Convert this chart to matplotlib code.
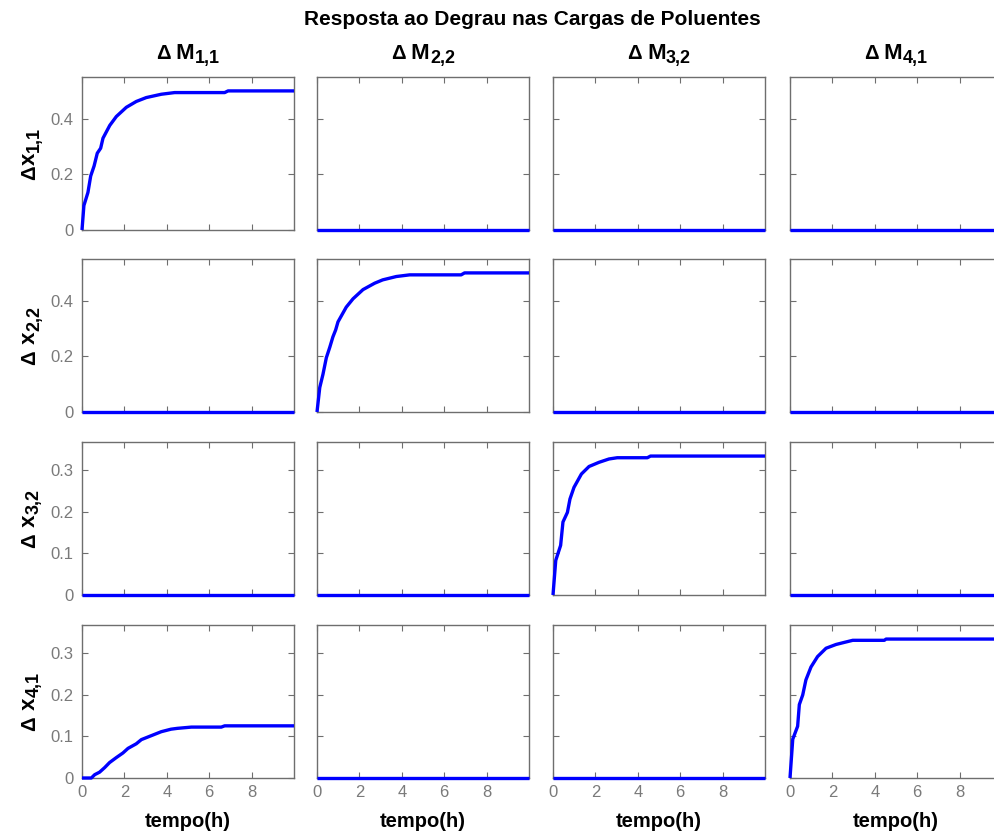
import matplotlib
matplotlib.use("Agg")
import matplotlib.pyplot as plt

plt.rcParams['font.family'] = ['Liberation Sans', 'DejaVu Sans']

# Inputs (columns) and outputs (rows); each label is (symbol, variable, index)
input_labels = [("Δ", " M", "1,1"), ("Δ", " M", "2,2"), ("Δ", " M", "3,2"), ("Δ", " M", "4,1")]
output_labels = [("Δ", "x", "1,1"), ("Δ", " x", "2,2"), ("Δ", " x", "3,2"), ("Δ", " x", "4,1")]

t_end = 10.0

# Step responses that are not identically zero: (row, col) -> time, value
t_11 = [0, 0.09, 0.28, 0.41, 0.57, 0.72, 0.88, 0.99, 1.31, 1.62, 2.09, 2.56,
        3.03, 3.74, 4.37, 6.73, 6.89, 10.0]
x_11 = [0, 0.088, 0.135, 0.194, 0.230, 0.276, 0.294, 0.330, 0.376, 0.408, 0.441,
        0.462, 0.476, 0.488, 0.494, 0.494, 0.500, 0.500]

t_22 = [0, 0.13, 0.28, 0.44, 0.60, 0.75, 0.88, 0.99, 1.38, 1.70, 2.17, 2.72,
        3.10, 3.74, 4.37, 6.80, 6.96, 10.0]
x_22 = [0, 0.088, 0.135, 0.195, 0.232, 0.270, 0.295, 0.324, 0.377, 0.407, 0.440,
        0.463, 0.475, 0.487, 0.493, 0.493, 0.500, 0.500]

t_33 = [0, 0.13, 0.36, 0.47, 0.68, 0.80, 0.99, 1.34, 1.70, 2.17, 2.64, 3.03,
        4.45, 4.60, 10.0]
x_33 = [0, 0.083, 0.119, 0.175, 0.198, 0.230, 0.258, 0.290, 0.308, 0.318, 0.326,
        0.329, 0.329, 0.333, 0.333]

t_41 = [0, 0.44, 0.60, 0.83, 1.07, 1.30, 1.62, 1.93, 2.17, 2.56, 2.80, 3.27,
        3.74, 4.20, 4.50, 5.16, 6.57, 6.73, 10.0]
x_41 = [0, 0, 0.008, 0.014, 0.025, 0.037, 0.049, 0.060, 0.071, 0.082, 0.092,
        0.1015, 0.111, 0.117, 0.119, 0.122, 0.122, 0.125, 0.125]

t_44 = [0, 0.13, 0.36, 0.44, 0.60, 0.75, 0.99, 1.30, 1.70, 2.17, 2.56, 2.96,
        4.45, 4.53, 10.0]
x_44 = [0, 0.093, 0.124, 0.176, 0.199, 0.235, 0.266, 0.291, 0.311, 0.320, 0.325,
        0.330, 0.330, 0.333, 0.333]

responses = {
    (0, 0): (t_11, x_11),
    (1, 1): (t_22, x_22),
    (2, 2): (t_33, x_33),
    (3, 0): (t_41, x_41),
    (3, 3): (t_44, x_44),
}

row_ylim = [0.55, 0.55, 0.3667, 0.3667]
row_yticks = [[0, 0.2, 0.4], [0, 0.2, 0.4], [0, 0.1, 0.2, 0.3], [0, 0.1, 0.2, 0.3]]
xticks = [0, 2, 4, 6, 8]

W, H = 995, 834
fig = plt.figure(figsize=(W / 100, H / 100), dpi=100)
renderer = fig.canvas.get_renderer()

col_left = [82, 317, 553, 790]
row_top = [77, 259, 442, 625]
ax_w, ax_h = 212, 153

line_color = '#0000ff'
spine_color = '#6e6e6e'
tick_color = '#7a7a7a'

SIZES = (14.5, 16, 13)   # symbol, variable, subscript (pt)
SUB_DROP = 4             # subscript drop below baseline (px)


def text_width(s, size):
    t = fig.text(0, 0, s, fontsize=size, fontweight='bold')
    w = t.get_window_extent(renderer).width
    t.remove()
    return w


def subscripted_label(cx, cy, parts, vertical=False):
    """Draw symbol + variable + lowered index, centred at (cx, cy) in pixels
    measured from the top-left corner; vertical labels read bottom to top."""
    drops = (0, 0, SUB_DROP)
    widths = [text_width(s, z) for s, z in zip(parts, SIZES)]
    pos = -sum(widths) / 2
    for s, z, d, w in zip(parts, SIZES, drops, widths):
        if vertical:
            x, y, rot = cx + d, cy - pos, 90
        else:
            x, y, rot = cx + pos, cy + d, 0
        fig.text(x / W, 1 - y / H, s, fontsize=z, fontweight='bold',
                 ha='left', va='baseline', rotation=rot, rotation_mode='anchor')
        pos += w


for r in range(4):
    for c in range(4):
        x0 = col_left[c] / W
        y0 = 1 - (row_top[r] + ax_h) / H
        ax = fig.add_axes([x0, y0, ax_w / W, ax_h / H])
        if (r, c) in responses:
            t, x = responses[(r, c)]
        else:
            t, x = [0, t_end], [0, 0]
        ax.plot(t, x, color=line_color, lw=2.4, clip_on=False, zorder=5,
                solid_capstyle='butt')
        ax.set_xlim(0, t_end)
        ax.set_ylim(0, row_ylim[r])
        ax.set_xticks(xticks)
        ax.set_yticks(row_yticks[r])
        ax.tick_params(direction='in', length=4, width=0.8, top=True, right=True,
                       colors=spine_color, labelcolor=tick_color, labelsize=12)
        ax.tick_params(axis='x', pad=5)
        ax.tick_params(axis='y', pad=6)
        for s in ax.spines.values():
            s.set_color(spine_color)
            s.set_linewidth(1.0)
        if c == 0:
            ax.set_yticklabels([f"{v:g}" for v in row_yticks[r]])
        else:
            ax.set_yticklabels([])
        if r == 3:
            ax.set_xticklabels([str(v) for v in xticks])
            ax.set_xlabel("tempo(h)", fontsize=14.5, fontweight='bold', labelpad=9)
        else:
            ax.set_xticklabels([])
        if r == 0:
            subscripted_label(col_left[c] + ax_w / 2, 59, input_labels[c])
        if c == 0:
            subscripted_label(35, row_top[r] + ax_h / 2, output_labels[r], vertical=True)

fig.text(532 / W, 1 - 25 / H, "Resposta ao Degrau nas Cargas de Poluentes",
         ha='center', va='baseline', fontsize=15, fontweight='bold')

fig.savefig("out.png", dpi=100)
